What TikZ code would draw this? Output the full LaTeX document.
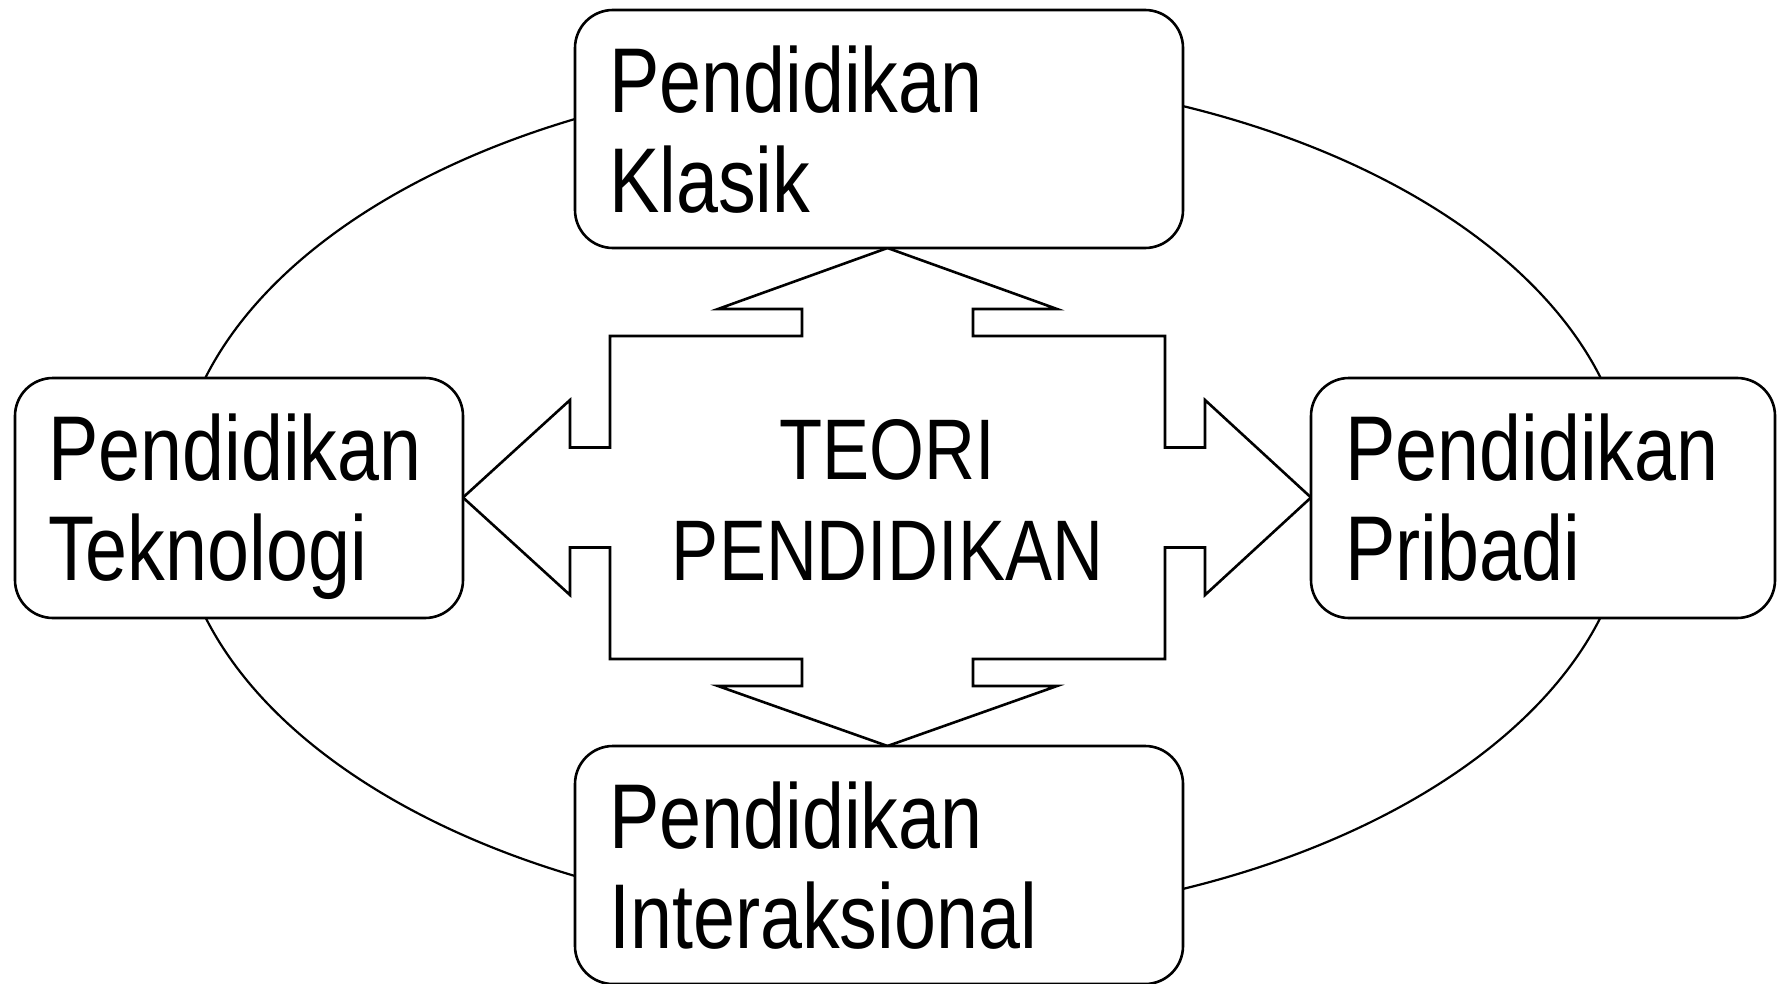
\documentclass[tikz,border=0pt]{standalone}
\usepackage{fontspec}
\setmainfont{Liberation Sans}[FakeStretch=0.82]
\begin{document}
\begin{tikzpicture}[x=1pt,y=-1pt,
  box/.style={draw, line width=2.6pt, rounded corners=38pt, fill=white, inner sep=0pt},
  lbl/.style={font=\fontsize{92}{100}\selectfont, align=left, anchor=base west, inner sep=0pt},
  ctr/.style={font=\fontsize{86}{101}\selectfont, align=center, anchor=base, inner sep=0pt},
  ring/.style={line width=2.2pt},
  quad/.style={line width=2.6pt, line join=miter}]
\fill[white] (0,0) rectangle (1784,984);
\useasboundingbox (0,0) rectangle (1784,984);
\coordinate (ec) at (903,497.5);
\draw[ring] (ec) ellipse [x radius=727pt, y radius=424pt];
\begin{scope}[shift={(887.5,497.5)}]
\draw[quad] (0,-249.5) -- (169.5,-188.5) -- (85.5,-188.5) -- (85.5,-161.5) -- (277.5,-161.5) -- (277.5,-50) -- (317.5,-50) -- (317.5,-97.5) -- (423.5,0) -- (317.5,97.5) -- (317.5,50) -- (277.5,50) -- (277.5,161.5) -- (85.5,161.5) -- (85.5,188.5) -- (169.5,188.5) -- (0,248.5) -- (-169.5,188.5) -- (-85.5,188.5) -- (-85.5,161.5) -- (-277.5,161.5) -- (-277.5,50) -- (-317.5,50) -- (-317.5,97.5) -- (-424.5,0) -- (-317.5,-97.5) -- (-317.5,-50) -- (-277.5,-50) -- (-277.5,-161.5) -- (-85.5,-161.5) -- (-85.5,-188.5) -- (-169.5,-188.5) -- cycle;
\end{scope}
\node[box, minimum width=608pt, minimum height=238pt] (klasik) at (879,129) {};
\node[box, minimum width=448pt, minimum height=240pt] (tekno) at (239,498) {};
\node[box, minimum width=464pt, minimum height=240pt] (pribadi) at (1543,498) {};
\node[box, minimum width=608pt, minimum height=238pt] (inter) at (879,865) {};
\node[lbl] (tklasik) at (609,213) {Pendidikan\\Klasik};
\node[lbl] (ttekno) at (48,580) {Pendidikan\\Teknologi};
\node[lbl] (tpribadi) at (1345,580) {Pendidikan\\Pribadi};
\node[lbl] (tinter) at (609,948) {Pendidikan\\Interaksional};
\node[ctr] (teori) at (887.5,580) {TEORI\\PENDIDIKAN};
\end{tikzpicture}
\end{document}
